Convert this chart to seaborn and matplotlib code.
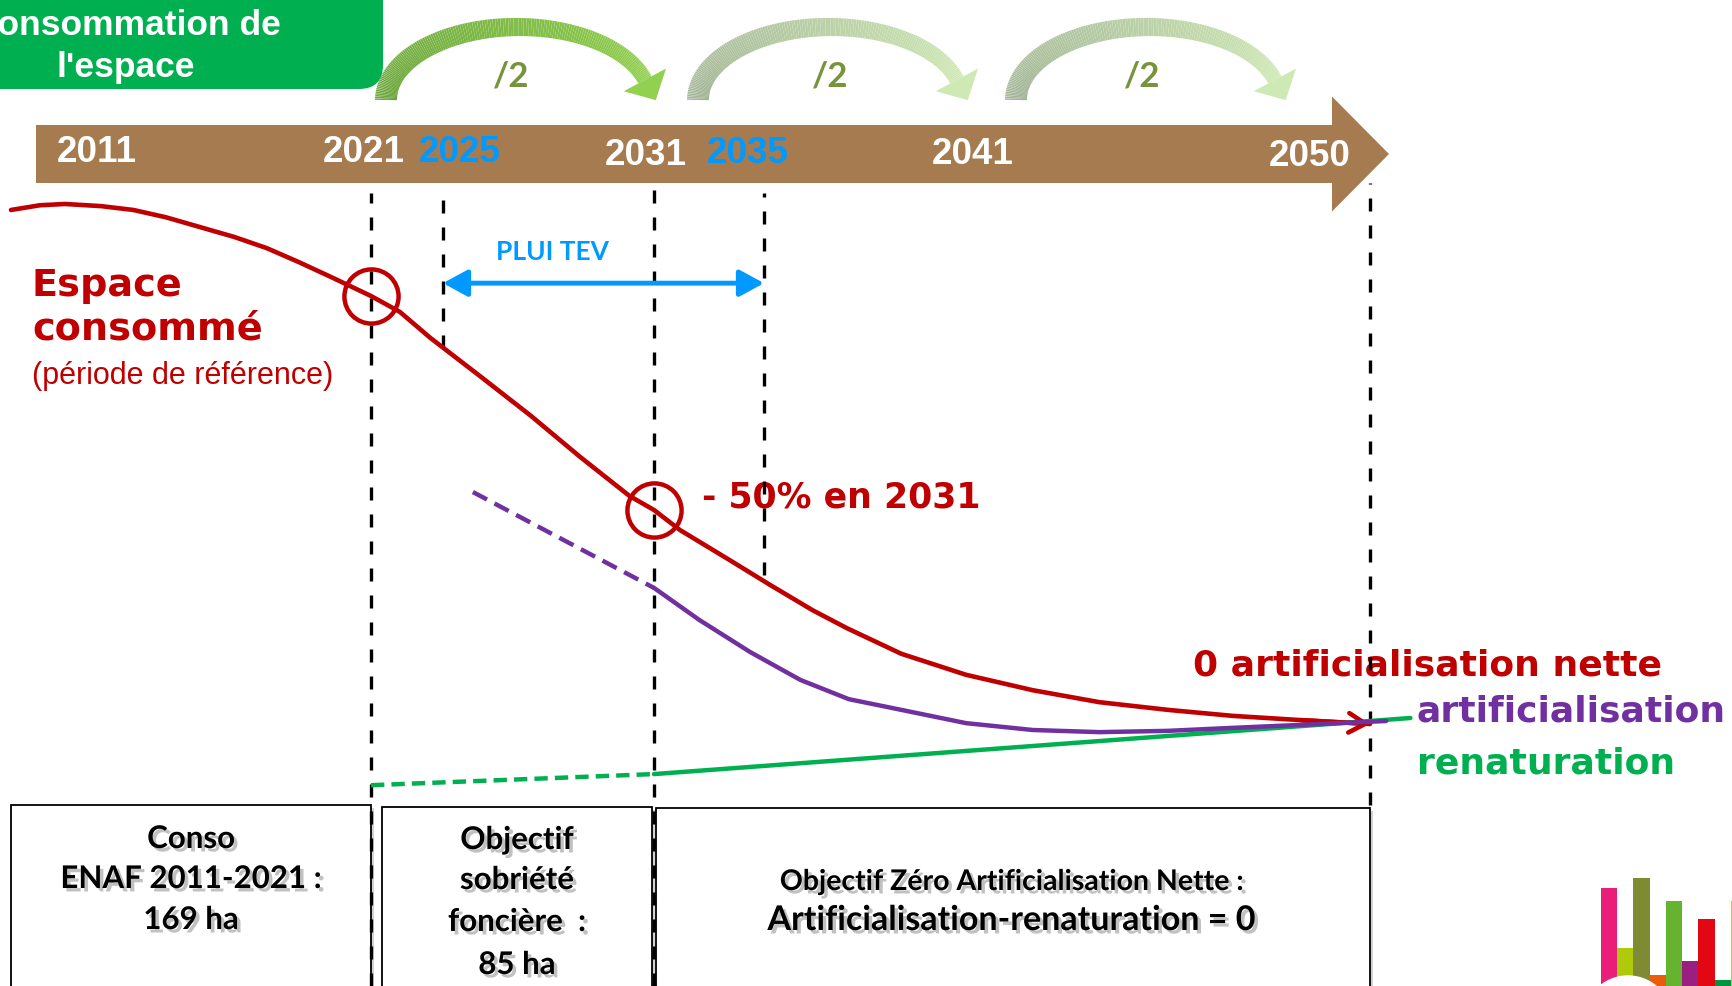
import numpy as np
import matplotlib
matplotlib.use("Agg")
import matplotlib.pyplot as plt
import seaborn as sns
from matplotlib import patches, patheffects
from matplotlib.collections import LineCollection
from matplotlib.colors import to_rgb

sns.set_theme(style="white")
plt.rcParams['font.family'] = ['Liberation Sans', 'DejaVu Sans']

# ---- data (schematic) ----
# consumption index: 100 = level in 2021, 0 = net zero artificialisation
RED_YEARS = [2011, 2011.8, 2012.5, 2013.5, 2014.4, 2015.3, 2016.25, 2017.2, 2018.1,
             2019.0, 2019.9, 2021, 2022.6, 2024.3, 2026.05, 2027.5, 2028.9, 2030.3,
             2031, 2031.95, 2033.75, 2035.15, 2036.2, 2037.05, 2038.4, 2040.0,
             2041.65, 2043.3, 2045.0, 2046.6, 2048.3, 2050]
RED_VALUES = [120.1, 121.2, 121.5, 121.0, 120.1, 118.4, 116.1, 113.8, 111.2,
              107.9, 104.4, 100, 96.3, 90.2, 81.3, 72.0, 62.4, 53.3,
              50, 45.3, 38.3, 32.5, 26.6, 22.4, 16.4, 11.5,
              7.9, 5.1, 3.3, 1.9, 0.9, 0]

PURPLE_DASH_YEARS = [2025.85, 2031]
PURPLE_DASH_VALUES = [54.2, 31.8]
PURPLE_YEARS = [2031, 2032.65, 2034.5, 2035.9, 2037.1, 2038.4, 2040.0, 2041.65,
                2043.3, 2045.0, 2046.6, 2048.3, 2050.4]
PURPLE_VALUES = [31.8, 24.3, 16.8, 10.3, 5.8, 3.3, 0.2, -1.4,
                 -1.9, -1.6, -0.9, -0.2, 0.7]

GREEN_DASH_YEARS = [2021, 2031]
GREEN_DASH_VALUES = [-14.3, -11.7]
GREEN_YEARS = [2031, 2051]
GREEN_VALUES = [-11.7, 1.4]

CIRCLE_YEARS = [2021, 2031]
PLUI_YEARS = [2025, 2035]
PLUI_LEVEL = 103

TIMELINE_LABELS = ['2011', '2021', '2025', '2031', '2035', '2041', '2050']
TIMELINE_BLUE = ['2025', '2035']
VLINE_YEARS = [2021, 2025, 2031, 2035, 2050]

LOGO_KEYS = list("abcdefghi")
LOGO_HEIGHTS = [112, 52, 122, 25, 99, 39, 81, 20, 99]
LOGO_COLORS = ['#e91e78', '#afca0b', '#7e8b32', '#ea5b0c', '#65b32e',
               '#9a1f80', '#e30613', '#009640', '#fbba00']

# ---- layout ----
W, H = 1733, 986
RED = '#c00000'
PURPLE = '#7030a0'
GREEN = '#00b050'
BLUE = '#0099ff'
OLIVE = '#77933c'
BROWN = '#a67b4f'

# timeline is not linear: anchor years to pixel positions
YEAR_ANCHORS = [2010, 2011, 2021, 2025, 2031, 2035, 2050, 2060]
PX_ANCHORS = [-25, 11, 371, 443, 654, 764, 1370, 1774]
Y0_PX, PX_PER_UNIT = 724, 4.28


def year_to_px(x):
    return np.interp(x, YEAR_ANCHORS, PX_ANCHORS)


def px_to_year(p):
    return np.interp(p, PX_ANCHORS, YEAR_ANCHORS)


def px_to_val(p):
    return (Y0_PX - p) / PX_PER_UNIT


fig = plt.figure(figsize=(W / 100, H / 100), dpi=100)
fig.patch.set_facecolor('white')

bg = fig.add_axes([0, 0, 1, 1])
bg.set_xlim(0, W)
bg.set_ylim(H, 0)
bg.axis('off')

# title box (cut by the left edge, as in the original)
bg.add_patch(patches.FancyBboxPatch((-80, -80), 463, 169,
                                    boxstyle='round,pad=0,rounding_size=24',
                                    fc=GREEN, ec='none'))
bg.text(126, 35, 'Consommation de', ha='center', va='baseline', color='white',
        fontsize=25.5, fontweight='bold')
bg.text(126, 77, "l'espace", ha='center', va='baseline', color='white',
        fontsize=25.5, fontweight='bold')

# timeline arrow
bg.add_patch(patches.FancyArrow(36, 154, 1389 - 36, 0, width=58, head_width=115,
                                head_length=57, length_includes_head=True,
                                fc=BROWN, ec='none'))
label_pos = {'2011': (97, 162), '2021': (364, 162), '2025': (460, 162),
             '2031': (646, 165), '2035': (748, 163), '2041': (973, 164),
             '2050': (1310, 166)}
for lab in TIMELINE_LABELS:
    x, y = label_pos[lab]
    bg.text(x, y, lab, ha='center', va='baseline', fontsize=26.5, fontweight='bold',
            color=BLUE if lab in TIMELINE_BLUE else 'white')


# curved "/2" arrows
def curved_arrow(cx, c0, c1):
    a, b, cy = 132, 73, 100
    th = np.linspace(np.pi, np.radians(16), 150)
    pts = np.column_stack([cx + a * np.cos(th), cy - b * np.sin(th)])
    segs = np.stack([pts[:-1], pts[1:]], axis=1)
    t = np.linspace(0, 1, len(segs))[:, None]
    cols = (1 - t) * np.array(to_rgb(c0)) + t * np.array(to_rgb(c1))
    widths = (22 - 7 * t.ravel()) * 0.72
    bg.add_collection(LineCollection(segs, colors=cols, linewidths=widths,
                                     capstyle='butt'))
    end = pts[-1]
    d = pts[-1] - pts[-2]
    d = d / np.hypot(*d)
    n = np.array([-d[1], d[0]])
    tri = [end + n * 24, end - n * 24, end + d * 23]
    bg.add_patch(patches.Polygon(tri, closed=True, fc=c1, ec='none'))


curved_arrow(518, '#6ea63f', '#92d050')
curved_arrow(830, '#a3b597', '#cfe9b5')
curved_arrow(1148, '#a3b597', '#cfe9b5')
for x in [511, 830, 1142]:
    bg.text(x, 86, '/2', ha='center', va='baseline', color=OLIVE, fontsize=25,
            fontweight='bold', family=['Lato', 'DejaVu Sans'])

# bottom boxes
box_shadow = [patheffects.SimplePatchShadow(offset=(2, -2), shadow_rgbFace='gray',
                                            alpha=0.35), patheffects.Normal()]
for x0, y0, w in [(11, 805, 360), (382, 807, 270), (656, 808, 714)]:
    bg.add_patch(patches.Rectangle((x0, y0), w, 250, fc='white', ec='black', lw=1.3,
                                   path_effects=box_shadow))

txt_shadow = [patheffects.withSimplePatchShadow(offset=(2.5, -2.5),
                                                shadow_rgbFace='#777777', alpha=0.45)]
box_font = dict(ha='center', va='baseline', color='black', fontweight='bold',
                family=['Lato', 'DejaVu Sans'], path_effects=txt_shadow)
for s, y in [('Conso', 848), ('ENAF 2011-2021 :', 888), ('169 ha', 929)]:
    bg.text(191, y, s, fontsize=22.5, **box_font)
for s, y in [('Objectif', 849), ('sobriété', 889), ('foncière  :', 931), ('85 ha', 974)]:
    bg.text(517, y, s, fontsize=22.5, **box_font)
bg.text(1012, 890, 'Objectif Zéro Artificialisation Nette :', fontsize=20.5, **box_font)
bg.text(1012, 930, 'Artificialisation-renaturation = 0', fontsize=24.5, **box_font)

# red / coloured labels
heavy = dict(va='baseline', fontweight='bold', family=['DejaVu Sans'])
bg.text(32, 296, 'Espace', color=RED, fontsize=27.5, **heavy)
bg.text(32, 340, 'consommé', color=RED, fontsize=27.5, **heavy)
bg.text(32, 384, '(période de référence)', color=RED, fontsize=22, va='baseline')
bg.text(702, 507, '- 50% en 2031', color=RED, fontsize=25, **heavy)
bg.text(1193, 676, '0 artificialisation nette', color=RED, fontsize=26, **heavy)
bg.text(1417, 722, 'artificialisation', color=PURPLE, fontsize=26, **heavy)
bg.text(1417, 774, 'renaturation', color=GREEN, fontsize=26, **heavy)
bg.text(553, 260, 'PLUI TEV', ha='center', va='baseline', color=BLUE, fontsize=19,
        fontweight='bold', family=['Lato', 'DejaVu Sans'])

# ---- chart axes: x in years (non linear timeline), y in index ----
ax = fig.add_axes([0, 0, 1, 1])
ax.patch.set_alpha(0)
ax.set_xscale('function', functions=(year_to_px, px_to_year))

vline_span = {2021: (193, 986), 2025: (193, 348), 2031: (183, 986),
              2035: (193, 575), 2050: (183, 805)}
for yr in VLINE_YEARS:
    top, bot = vline_span[yr]
    ax.axvline(yr, ymin=1 - bot / H, ymax=1 - top / H, color='black', lw=2.4,
               dashes=(3.9, 4.2), zorder=1)

sns.lineplot(x=RED_YEARS, y=RED_VALUES, ax=ax, color=RED, lw=3.3,
             estimator=None, sort=False, zorder=3)
sns.lineplot(x=GREEN_DASH_YEARS, y=GREEN_DASH_VALUES, ax=ax, color=GREEN, lw=3.2,
             estimator=None, sort=False, linestyle=(0, (3, 1.6)), zorder=3)
sns.lineplot(x=GREEN_YEARS, y=GREEN_VALUES, ax=ax, color=GREEN, lw=3.2,
             estimator=None, sort=False, zorder=3)
sns.lineplot(x=PURPLE_DASH_YEARS, y=PURPLE_DASH_VALUES, ax=ax, color=PURPLE, lw=3.2,
             estimator=None, sort=False, linestyle=(0, (3.6, 1.9)), zorder=4)
sns.lineplot(x=PURPLE_YEARS, y=PURPLE_VALUES, ax=ax, color=PURPLE, lw=3.2,
             estimator=None, sort=False, zorder=4)

ax.annotate('', xy=(RED_YEARS[-1], RED_VALUES[-1]),
            xytext=(RED_YEARS[-2], RED_VALUES[-2]),
            arrowprops=dict(arrowstyle='->,head_length=0.6,head_width=0.35',
                            color=RED, lw=3.3, mutation_scale=20,
                            shrinkA=0, shrinkB=0), zorder=3)

circle_vals = [RED_VALUES[RED_YEARS.index(y)] for y in CIRCLE_YEARS]
ax.plot(CIRCLE_YEARS, circle_vals, ls='none', marker='o', ms=39, mfc='none',
        mec=RED, mew=3.2, zorder=5)

ax.annotate('', xy=(PLUI_YEARS[1], PLUI_LEVEL), xytext=(PLUI_YEARS[0], PLUI_LEVEL),
            arrowprops=dict(arrowstyle='<|-|>,head_length=0.55,head_width=0.3',
                            color=BLUE, lw=3.5, mutation_scale=27,
                            shrinkA=0, shrinkB=0), zorder=4)

ax.set_xlim(px_to_year(0), px_to_year(W))
ax.set_ylim(px_to_val(H), px_to_val(0))
ax.axis('off')

# ---- logo (bottom right) ----
lg = fig.add_axes([1601 / W, -14 / H, 146 / W, 122 / H])
sns.barplot(x=LOGO_KEYS, y=LOGO_HEIGHTS, hue=LOGO_KEYS,
            palette=dict(zip(LOGO_KEYS, LOGO_COLORS)), width=1, linewidth=0,
            saturation=1, legend=False, ax=lg)
lg.set_xlim(-0.5, len(LOGO_KEYS) - 0.5)
lg.set_ylim(0, 122)
lg.axis('off')
fig.add_artist(patches.Circle((1628, 1020), 44, transform=bg.transData,
                              color='white', zorder=5))

fig.savefig('out.png', dpi=100)
